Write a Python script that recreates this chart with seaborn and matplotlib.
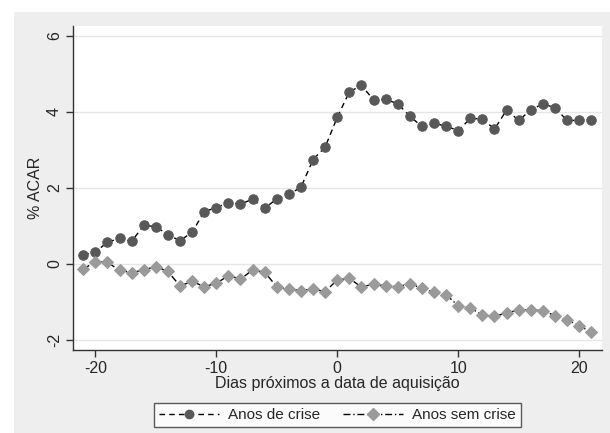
import matplotlib
matplotlib.use("Agg")
import matplotlib.pyplot as plt
from matplotlib.lines import Line2D
from matplotlib.patches import Rectangle
import pandas as pd
import seaborn as sns

days = list(range(-21, 22))
crise = [0.24, 0.31, 0.57, 0.67, 0.59, 1.01, 0.98, 0.76, 0.61, 0.83,
         1.37, 1.48, 1.61, 1.57, 1.70, 1.47, 1.70, 1.83, 2.01, 2.74,
         3.07, 3.85, 4.52, 4.69, 4.31, 4.32, 4.21, 3.88, 3.61, 3.69,
         3.62, 3.50, 3.82, 3.81, 3.54, 4.04, 3.77, 4.04, 4.21, 4.10,
         3.77, 3.77, 3.77]
sem_crise = [-0.14, 0.06, 0.04, -0.17, -0.23, -0.16, -0.07, -0.20, -0.58, -0.46,
             -0.60, -0.51, -0.31, -0.40, -0.16, -0.22, -0.60, -0.66, -0.70, -0.66,
             -0.73, -0.42, -0.38, -0.61, -0.53, -0.58, -0.60, -0.52, -0.64, -0.75,
             -0.81, -1.10, -1.16, -1.34, -1.38, -1.29, -1.21, -1.21, -1.23, -1.36,
             -1.47, -1.63, -1.78]
yticks = [-2, 0, 2, 4, 6]
xticks = [-20, -10, 0, 10, 20]

df = pd.DataFrame({"dia": days, "crise": crise, "sem": sem_crise})

sns.set_style("white")
plt.rcParams["font.family"] = ["Liberation Sans", "DejaVu Sans"]
plt.rcParams["axes.unicode_minus"] = False

fig = plt.figure(figsize=(6.1, 4.33), dpi=100)
fig.patch.set_facecolor("white")
fig.patches.append(Rectangle((14 / 610, 0), 1, 421 / 433, transform=fig.transFigure,
                             facecolor="#eeeeee", edgecolor="none", zorder=-10))
ax = fig.add_axes([73 / 610, 83.5 / 433, 528.5 / 610, 323.5 / 433])
ax.set_facecolor("white")

c1, c2 = "#585858", "#9a9a9a"
sns.lineplot(data=df, x="dia", y="crise", ax=ax, color="black", lw=1.0,
             linestyle=(0, (4, 3)), marker="o", markersize=6.8,
             markerfacecolor=c1, markeredgecolor=c1, zorder=3)
sns.lineplot(data=df, x="dia", y="sem", ax=ax, color="black", lw=1.0,
             linestyle=(0, (5, 2, 1, 2)), marker="D", markersize=6.2,
             markerfacecolor=c2, markeredgecolor=c2, zorder=3)

ax.set_xlim(-21.85, 21.85)
ax.set_ylim(-2.25, 6.25)
ax.set_yticks(yticks)
ax.set_xticks(xticks)
ax.set_yticklabels([str(t) for t in yticks], rotation=90, va="center")
ax.grid(axis="y", color="#e6e6e6", lw=1)
ax.set_axisbelow(True)
for s in ["top", "right"]:
    ax.spines[s].set_visible(False)
for s in ["left", "bottom"]:
    ax.spines[s].set_color("#333333")
    ax.spines[s].set_linewidth(1)
ax.tick_params(axis="both", direction="out", length=5, width=1, color="#333333",
               labelsize=11.5, left=True, bottom=True, pad=3)
ax.set_xlabel("Dias próximos a data de aquisição", fontsize=11.5, labelpad=0.5)
ax.set_ylabel("% ACAR", fontsize=11.5, labelpad=3)

handles = [
    Line2D([], [], color="black", lw=1.0, linestyle=(0, (4, 3)), marker="o",
           markersize=6, markerfacecolor=c1, markeredgecolor=c1),
    Line2D([], [], color="black", lw=1.0, linestyle=(0, (5, 2, 1, 2)), marker="D",
           markersize=6, markerfacecolor=c2, markeredgecolor=c2),
]
leg = fig.legend(handles, ["Anos de crise", "Anos sem crise"], loc="center",
                 bbox_to_anchor=(337.5 / 610, 18 / 433), ncol=2, fontsize=11,
                 frameon=True, fancybox=False, handlelength=3.9, numpoints=1,
                 columnspacing=1.5, borderpad=0.35, handletextpad=0.6)
leg.get_frame().set_edgecolor("#333333")
leg.get_frame().set_linewidth(1)
leg.get_frame().set_facecolor("white")

fig.savefig("out.png", dpi=100)
